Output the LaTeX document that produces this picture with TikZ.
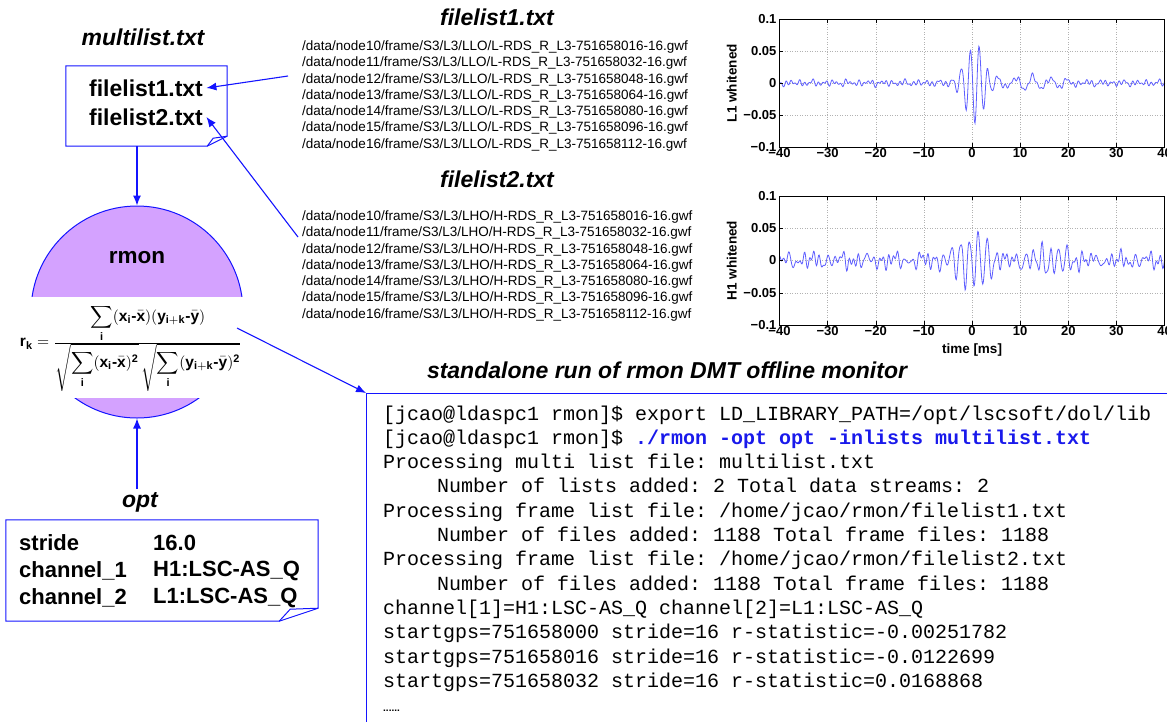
\documentclass[tikz,border=0pt]{standalone}
\usepackage{amsmath}
\usepackage{graphicx}
\usepackage{fontspec}
\setmainfont{Liberation Sans}
\setmonofont{Liberation Mono}
\usetikzlibrary{arrows.meta,calc}
\definecolor{lineblue}{RGB}{20,20,255}
\definecolor{purp}{RGB}{212,162,255}
\definecolor{sigblue}{RGB}{95,95,255}
\definecolor{termblue}{RGB}{25,25,235}
\newcommand{\fsz}[1]{\fontsize{#1}{#1}\selectfont}
\newcommand{\bmin}{\mbox{\bfseries -}}
\begin{document}
\begin{tikzpicture}[x=1pt,y=-1pt,
  declare function={
    lone(\t)=0.062*exp(max(-((\t-0.6)^2)/8,-15))*cos(194.6*(\t-1.5))
      +0.009*exp(max(-((\t-12)^2)/60,-15))*cos(100*(\t-5.5))
      +0.0025*sin(380*\t)+0.002*sin(260*\t+70)+0.0018*sin(150*\t+30)+0.0012*sin(95*\t);
    hone(\t)=0.05*exp(max(-((\t-0.7)^2)/20,-15))*cos(200*(\t-1.3))
      +0.015*exp(max(-((\t-14)^2)/100,-15))*cos(205*(\t-11))
      +0.006*sin(225*\t)+0.0045*sin(350*\t+40)+0.004*sin(130*\t+10)+0.0035*sin(62*\t)+0.003*sin(395*\t+100);
  },
  conn/.style={draw=lineblue, line width=1.1pt, -{Latex[length=10pt,width=8pt]}},
  boxl/.style={draw=lineblue, line width=1pt},
  lbl/.style={font=\bfseries\itshape\fsz{23}},
  entry/.style={font=\bfseries\fsz{23}},
  pathtxt/.style={font=\fsz{13.5}, anchor=west, inner sep=0},
  optt/.style={font=\bfseries\fsz{22}, anchor=west, inner sep=0},
  term/.style={font=\ttfamily\fsz{20}, anchor=base west, inner sep=0},
  ticklab/.style={font=\bfseries\fsz{13}, inner sep=1pt},
  gridl/.style={gray!60, dotted, line width=0.5pt},
  sig/.style={sigblue, line width=0.8pt},
]
\useasboundingbox (0,0) rectangle (1167,721);

% ---------- multilist box ----------
\node[lbl] (mltitle) at (143,37) {multilist.txt};
\node[minimum width=161pt, minimum height=80pt, inner sep=0] (ml) at (146.5,106) {};
\draw[boxl] (ml.north west) -- (ml.north east) -- ($(ml.south east)+(0,-10)$)
  -- ($(ml.south east)+(-20,0)$) -- (ml.south west) -- cycle;
\draw[boxl] ($(ml.south east)+(-20,0)$) -- ($(ml.south east)+(-14,-8)$) -- ($(ml.south east)+(0,-10)$);
\node[entry] (f1) at (146,88) {filelist1.txt};
\node[entry] (f2) at (146,117) {filelist2.txt};

% ---------- rmon circle ----------
\node[circle, draw=lineblue, fill=purp, line width=1pt, minimum size=212pt, inner sep=0] (rc) at (137,312) {};
\node[font=\bfseries\fsz{22.5}] (rmon) at (137,258) {rmon};
\node[fill=white, minimum width=245pt, minimum height=101pt, inner sep=0] (fbg) at (127.5,347.5) {};
\node[inner sep=0] (formula) at (131,348) {\resizebox{222pt}{!}{$
  \mathbf{r}_{\mathbf{k}}=\frac{\displaystyle\sum_{\mathbf{i}}(\mathbf{x}_{\mathbf{i}}\bmin\bar{\mathbf{x}})(\mathbf{y}_{\mathbf{i+k}}\bmin\bar{\mathbf{y}})}
  {\displaystyle\sqrt{\sum_{\mathbf{i}}(\mathbf{x}_{\mathbf{i}}\bmin\bar{\mathbf{x}})^{\mathbf{2}}}\,\sqrt{\sum_{\mathbf{i}}(\mathbf{y}_{\mathbf{i+k}}\bmin\bar{\mathbf{y}})^{\mathbf{2}}}}$}};

% ---------- opt box ----------
\node[lbl] (optlbl) at (140,502) {opt};
\node[minimum width=312pt, minimum height=101pt, inner sep=0] (ob) at (162,570.5) {};
\draw[boxl] (ob.north west) -- (ob.north east) -- ($(ob.south east)+(0,-13)$)
  -- ($(ob.south east)+(-39,0)$) -- (ob.south west) -- cycle;
\draw[boxl] ($(ob.south east)+(-39,0)$) -- ($(ob.south east)+(-28,-12)$) -- ($(ob.south east)+(0,-13)$);
\node[optt] (o1a) at (19,543) {stride};
\node[optt] (o1b) at (153,543) {16.0};
\node[optt] (o2a) at (19,571) {channel\_1};
\node[optt] (o2b) at (153,571) {H1:LSC-AS\_Q};
\node[optt] (o3a) at (19,598) {channel\_2};
\node[optt] (o3b) at (153,598) {L1:LSC-AS\_Q};

% ---------- file lists ----------
\node[lbl] (fl1title) at (497,17) {filelist1.txt};
\foreach \n/\num [count=\i from 0] in {10/016,11/032,12/048,13/064,14/080,15/096,16/112}
  \node[pathtxt] (l1-\i) at (302,{47+16.3*\i}) {/data/node\n/frame/S3/L3/LLO/L-RDS\_R\_L3-751658\num-16.gwf};
\node[lbl] (fl2title) at (497,179) {filelist2.txt};
\foreach \n/\num [count=\i from 0] in {10/016,11/032,12/048,13/064,14/080,15/096,16/112}
  \node[pathtxt] (l2-\i) at (302,{217+16.3*\i}) {/data/node\n/frame/S3/L3/LHO/H-RDS\_R\_L3-751658\num-16.gwf};

% ---------- plots ----------
\begin{scope}[shift={(972,83)}, x=4.8125pt, y=640pt]
  \foreach \t in {-30,-20,-10,0,10,20,30} \draw[gridl] (\t,-0.1) -- (\t,0.1);
  \foreach \v in {-0.05,0,0.05} \draw[gridl] (-40,\v) -- (40,\v);
  \draw[sig] plot[domain=-40:40, samples=700] (\x,{lone(\x)});
  \draw[black, line width=0.6pt] (-40,-0.1) rectangle (40,0.1);
  \foreach \t/\lab [count=\i] in {-40/−40,-30/−30,-20/−20,-10/−10,0/0,10/10,20/20,30/30,40/40}{
    \draw[black, line width=0.5pt] (\t,-0.1) -- (\t,-0.094);
    \draw[black, line width=0.5pt] (\t,0.1) -- (\t,0.094);
    \node[ticklab, anchor=north] (ax1x\i) at (\t,-0.1) {\lab};}
  \foreach \v/\lab [count=\i] in {0.1/0.1,0.05/0.05,0/0,-0.05/−0.05,-0.1/−0.1}{
    \draw[black, line width=0.5pt] (-40,\v) -- (-39.2,\v);
    \node[ticklab, anchor=east] (ax1y\i) at (-40.4,\v) {\lab};}
  \node[font=\bfseries\fsz{13.5}, rotate=90] (yl1) at (-49.9,0) {L1 whitened};
\end{scope}

\begin{scope}[shift={(972,260.5)}, x=4.8125pt, y=645pt]
  \foreach \t in {-30,-20,-10,0,10,20,30} \draw[gridl] (\t,-0.1) -- (\t,0.1);
  \foreach \v in {-0.05,0,0.05} \draw[gridl] (-40,\v) -- (40,\v);
  \draw[sig] plot[domain=-40:40, samples=700] (\x,{hone(\x)});
  \draw[black, line width=0.6pt] (-40,-0.1) rectangle (40,0.1);
  \foreach \t/\lab [count=\i] in {-40/−40,-30/−30,-20/−20,-10/−10,0/0,10/10,20/20,30/30,40/40}{
    \draw[black, line width=0.5pt] (\t,-0.1) -- (\t,-0.094);
    \draw[black, line width=0.5pt] (\t,0.1) -- (\t,0.094);
    \node[ticklab, anchor=north] (ax2x\i) at (\t,-0.1) {\lab};}
  \foreach \v/\lab [count=\i] in {0.1/0.1,0.05/0.05,0/0,-0.05/−0.05,-0.1/−0.1}{
    \draw[black, line width=0.5pt] (-40,\v) -- (-39.2,\v);
    \node[ticklab, anchor=east] (ax2y\i) at (-40.4,\v) {\lab};}
  \node[font=\bfseries\fsz{13.5}, rotate=90] (yl2) at (-49.9,0) {H1 whitened};
  \node[font=\bfseries\fsz{13.5}] (xl2) at (0,-0.139) {time [ms]};
\end{scope}

% ---------- terminal ----------
\node[lbl] (termtitle) at (667,370) {standalone run of rmon DMT offline monitor};
\node[boxl, minimum width=840pt, minimum height=380pt, anchor=north west, inner sep=0] (termbox) at (366,393) {};
\node[term] (t1) at (383,420) {[jcao@ldaspc1 rmon]\$ export LD\_LIBRARY\_PATH=/opt/lscsoft/dol/lib};
\node[term] (t2) at (383,444.3) {[jcao@ldaspc1 rmon]\$ \textcolor{termblue}{\bfseries ./rmon -opt opt -inlists multilist.txt}};
\node[term] (t3) at (383,468.6) {Processing multi list file: multilist.txt};
\node[term] (t4) at (437,492.9) {Number of lists added: 2 Total data streams: 2};
\node[term] (t5) at (383,517.2) {Processing frame list file: /home/jcao/rmon/filelist1.txt};
\node[term] (t6) at (437,541.5) {Number of files added: 1188 Total frame files: 1188};
\node[term] (t7) at (383,565.8) {Processing frame list file: /home/jcao/rmon/filelist2.txt};
\node[term] (t8) at (437,590.1) {Number of files added: 1188 Total frame files: 1188};
\node[term] (t9) at (383,614.4) {channel[1]=H1:LSC-AS\_Q channel[2]=L1:LSC-AS\_Q};
\node[term] (t10) at (383,638.7) {startgps=751658000 stride=16 r-statistic=-0.00251782};
\node[term] (t11) at (383,663) {startgps=751658016 stride=16 r-statistic=-0.0122699};
\node[term] (t12) at (383,687.3) {startgps=751658032 stride=16 r-statistic=0.0168868};
\node[anchor=base west, inner sep=0, font=\bfseries\fsz{10}] (t13) at (383,711) {......};

% ---------- connectors ----------
\coordinate (a1s) at (288,76);
\coordinate (a2s) at (298,237);
\coordinate (fa) at (237,328);
\draw[conn] (a1s) -- (f1.east);
\draw[conn] (a2s) -- (f2.east);
\draw[conn] (ml.south -| rc.north) -- (rc.north);
\draw[conn] (optlbl.north -| rc.south) -- (rc.south);
\draw[conn] (fa) -- (termbox.north west);
\end{tikzpicture}
\end{document}
